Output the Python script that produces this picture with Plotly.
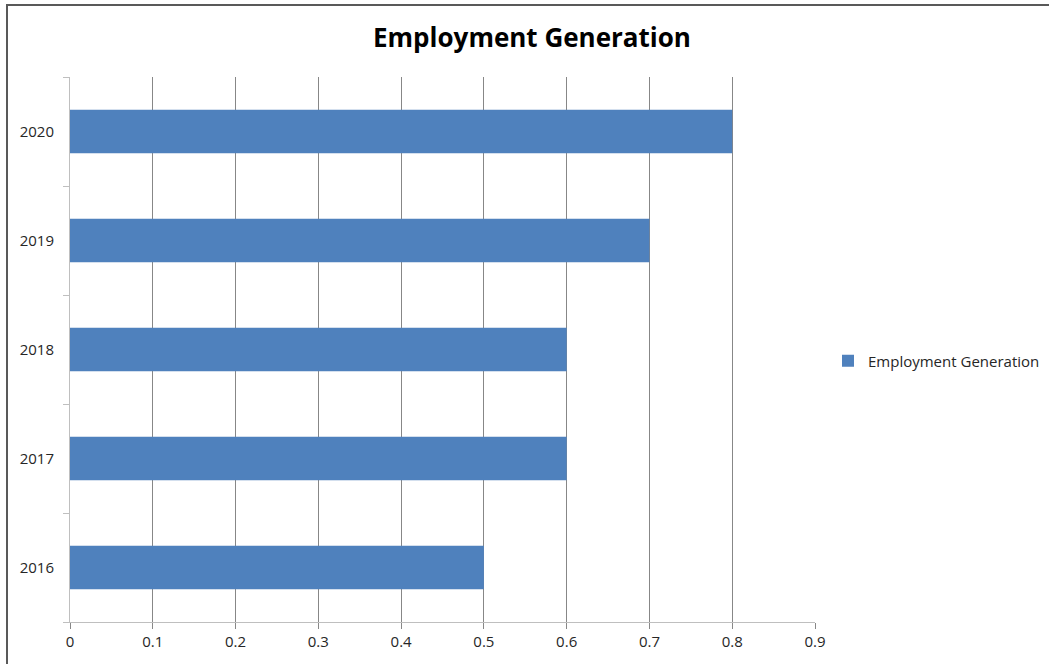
import plotly.graph_objects as go

years = ["2016", "2017", "2018", "2019", "2020"]
values = [0.5, 0.6, 0.6, 0.7, 0.8]
series_name = "Employment Generation"
x_ticks = [0, 0.1, 0.2, 0.3, 0.4, 0.5, 0.6, 0.7, 0.8, 0.9]
x_tick_text = ["0", "0.1", "0.2", "0.3", "0.4", "0.5", "0.6", "0.7", "0.8", "0.9"]

W, H = 1049, 664
L, R, T, B = 70, 234, 77, 42
# intended plot area in pixels (0 -> 70, 0.9 -> 815)
PL, PR = 70, 815
pw = PR - PL
ph = H - T - B

def px_x(x):
    return (x - PL) / pw

def px_y(y):
    return (H - B - y) / ph

font_family = "Open Sans, Noto Sans, sans-serif"

fig = go.Figure()
fig.add_trace(go.Bar(
    y=years, x=values, orientation="h", name=series_name,
    marker=dict(color="#4F81BD", line=dict(width=0)),
    showlegend=True,
))

fig.update_layout(
    width=W, height=H,
    margin=dict(l=L, r=R, t=T, b=B, pad=0),
    paper_bgcolor="white", plot_bgcolor="white",
    bargap=0.6,
    font=dict(family=font_family, size=15, color="#262626"),
    title=dict(text="<b>Employment Generation</b>", x=532 / W, xref="container", xanchor="center",
               y=1 - 38 / H, yref="container", yanchor="middle",
               font=dict(family=font_family, size=26, color="black")),
    showlegend=True,
    legend=dict(x=840 / W, y=1 - 361 / H, xref="container", yref="container",
                xanchor="left", yanchor="middle", indentation=-12,
                font=dict(family=font_family, size=15, color="#262626"),
                bgcolor="rgba(0,0,0,0)", itemwidth=30),
    xaxis=dict(range=[0, 0.9], tickvals=x_ticks, ticktext=x_tick_text,
               showgrid=True, gridcolor="#878787", gridwidth=1,
               showline=True, linecolor="#BFBFBF", linewidth=1,
               ticks="outside", ticklen=6, tickcolor="#878787",
               zeroline=False, tickfont=dict(size=15, color="#262626")),
    yaxis=dict(categoryorder="array", categoryarray=years,
               showgrid=False, showline=True, linecolor="#BFBFBF", linewidth=1,
               ticks="outside", ticklen=6, tickcolor="#BFBFBF", tickson="boundaries",
               zeroline=False, tickfont=dict(size=15, color="#262626"), ticklabelstandoff=12),
    shapes=[dict(type="rect", xref="paper", yref="paper",
                 x0=px_x(7), x1=px_x(1100), y0=px_y(5), y1=px_y(700),
                 line=dict(color="#595959", width=2), fillcolor="rgba(0,0,0,0)")],
)

fig.write_html("out.html")
